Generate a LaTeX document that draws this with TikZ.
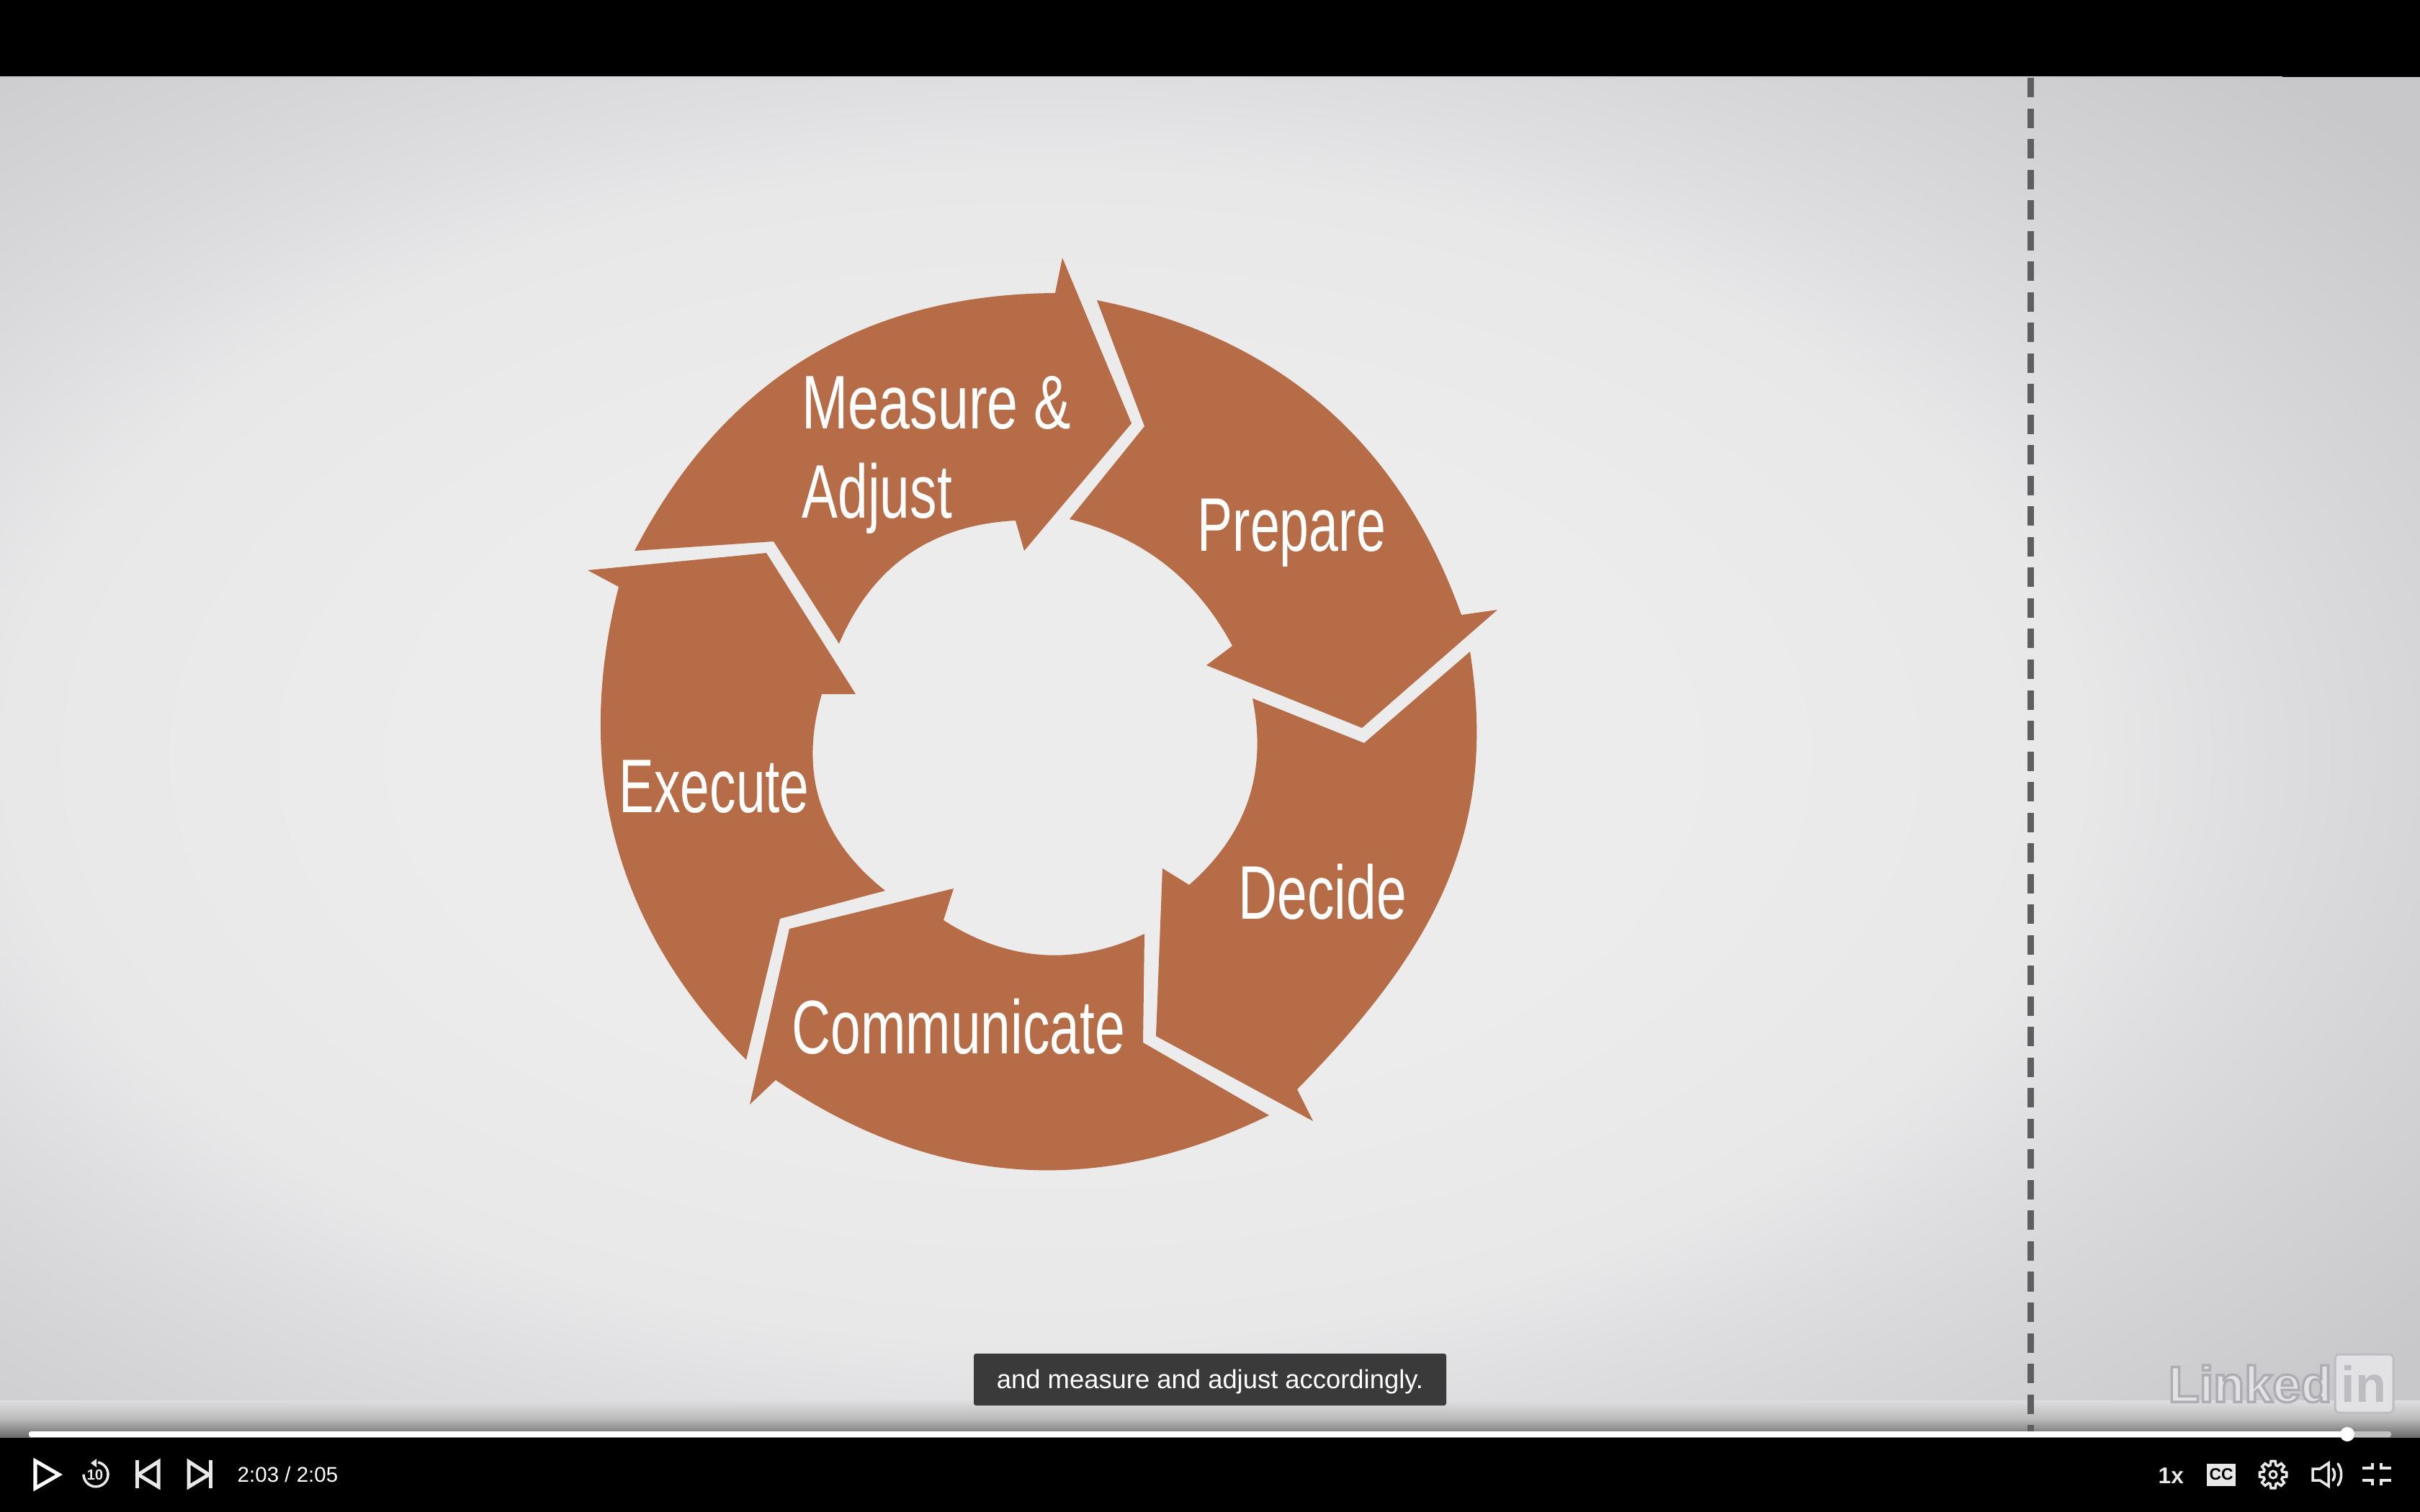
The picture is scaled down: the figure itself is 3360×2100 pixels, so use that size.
\documentclass[tikz,border=0pt]{standalone}
\usepackage{fontspec}
\setmainfont{Liberation Sans}
\newfontfamily\lblfont[FakeStretch=0.71]{Liberation Sans}
\newfontfamily\logofont[FakeBold=5]{Liberation Sans}
\definecolor{stagea}{HTML}{ECECEC}
\definecolor{stageb}{HTML}{E8E8E9}
\definecolor{stagec}{HTML}{DEDEE0}
\definecolor{staged}{HTML}{D6D6D9}
\definecolor{stagee}{HTML}{C8C8CB}
\definecolor{rust}{HTML}{B66C46}
\definecolor{dashgrey}{HTML}{5E5E5F}
\definecolor{capbox}{HTML}{3A3A3A}
\definecolor{iconw}{HTML}{E8E8E8}
\definecolor{logofill}{HTML}{E2E2E4}
\definecolor{logoedge}{HTML}{BDBDC1}
\pgfdeclareradialshading{stagebg}{\pgfpoint{0bp}{0bp}}{%
  color(0bp)=(stagea); color(35bp)=(stagea); color(60bp)=(stageb); color(70bp)=(stagec); color(80bp)=(staged); color(100bp)=(stagee)}
\tikzset{
  arrowshape/.style={fill=rust},
  lbl/.style={text=white,anchor=base west,inner sep=0pt,font=\lblfont\fontsize{30}{36}\selectfont},
  ctrltext/.style={text=white,inner sep=0pt,font=\fontsize{8.4}{10}\selectfont},
  logotext/.style={inner sep=0pt,text=logofill,font=\logofont\bfseries\fontsize{20}{24}\selectfont},
  iconline/.style={draw=iconw,line width=0.035cm},
}
\begin{document}
\begin{tikzpicture}[x=0.01cm,y=-0.01cm,line join=miter]
\useasboundingbox (0,0) rectangle (3360,2100);
\fill[black] (0,0) rectangle (3360,2100);
% stage
\fill[stagee] (0,107) rectangle (3360,1996);
\begin{scope}
\clip (0,107) rectangle (3360,1996);
\pgflowlevelobj{\pgftransformshift{\pgfpointxy{1450}{1050}}\pgftransformxscale{6.80}\pgftransformyscale{3.83}}{\pgfuseshading{stagebg}}
\end{scope}
% bottom gradient
\shade[top color=stagec,bottom color=black!58!white,middle color=black!27!white] (0,1945) rectangle (3360,1996);
% dashed divider
\draw[dashgrey,line width=0.09cm,dash pattern=on 0.27cm off 0.155cm] (2819,108) -- (2819,1990);
% arrows
\fill[arrowshape] (881,765) -- (1074,752) -- (1165,894)
  .. controls (1211,786) and (1293,729) .. (1410,723)
  -- (1422,765) -- (1571,588) -- (1475,358) -- (1465,407)
  .. controls (1198,409) and (1004,528) .. (881,765) -- cycle;
\fill[arrowshape] (1523,417) -- (1589,592) -- (1485,721)
  .. controls (1587,746) and (1662,805) .. (1711,897)
  -- (1675,924) -- (1891,1011) -- (2079,847) -- (2029,854)
  .. controls (1943,613) and (1774,467) .. (1523,417) -- cycle;
\fill[arrowshape] (2041,905) -- (1894,1032) -- (1739,970)
  .. controls (1760,1073) and (1731,1159) .. (1651,1229)
  -- (1614,1206) -- (1605,1439) -- (1823,1557) -- (1801,1513)
  .. controls (1991,1319) and (2081,1156) .. (2041,905) -- cycle;
\fill[arrowshape] (1762,1549) -- (1587,1448) -- (1589,1297)
  .. controls (1493,1342) and (1400,1336) .. (1310,1278)
  -- (1324,1234) -- (1096,1290) -- (1041,1534) -- (1077,1500)
  .. controls (1296,1649) and (1524,1665) .. (1762,1549) -- cycle;
\fill[arrowshape] (1036,1472) -- (1083,1276) -- (1229,1237)
  .. controls (1138,1165) and (1109,1074) .. (1141,964)
  -- (1188,964) -- (1064,768) -- (816,792) -- (859,815)
  .. controls (795,1067) and (853,1287) .. (1036,1472) -- cycle;
% labels
\node[lbl] (measure) at (1113,595) {\scalebox{1.03}[1]{Measure \&}};
\node[lbl] (adjust) at (1113,719) {Adjust};
\node[lbl] (prepare) at (1662,765) {\scalebox{0.98}[1]{Prepare}};
\node[lbl] (decide) at (1719,1276) {Decide};
\node[lbl] (communicate) at (1099,1463) {Communicate};
\node[lbl] (execute) at (859,1128) {\scalebox{0.975}[1]{Execute}};
% caption
\fill[capbox,rounded corners=0.03cm] (1352,1880) rectangle (2008,1952);
\node[text=white,anchor=base,inner sep=0pt,font=\fontsize{10.35}{12}\selectfont] (caption) at (1680,1928) {and measure and adjust accordingly.};
% logo
\node[logotext,anchor=base west] (linked) at (3010,1947) {\special{pdf:code 0.68 0.68 0.70 RG}Linked};
\fill[logofill,draw=logoedge,line width=0.03cm,rounded corners=0.06cm] (3242,1881) rectangle (3323,1962);
\node[inner sep=0pt,anchor=base,text=logoedge,font=\bfseries\fontsize{20}{24}\selectfont] (logoin) at (3282,1947) {in};
% scrubber
\fill[black!25,rounded corners=0.03cm] (3259,1988) rectangle (3320,1996);
\fill[white,rounded corners=0.03cm] (40,1988) rectangle (3259,1996);
\fill[white] (3259,1992) circle (10);
% left controls
\draw[white,line width=0.05cm] (49,2029) -- (49,2067) -- (82,2048) -- cycle;
\draw[iconline] (136,2031) arc[start angle=-80,end angle=180,radius=17];
\fill[iconw] (126,2032) -- (134,2026) -- (134,2038) -- cycle;
\node[inner sep=0pt,text=iconw,font=\bfseries\fontsize{5.8}{6}\selectfont] (replay) at (132,2048) {10};
\draw[iconw,line width=0.05cm] (190,2028) -- (190,2067);
\draw[iconw,line width=0.05cm] (220,2030) -- (220,2065) -- (192,2048) -- cycle;
\draw[iconw,line width=0.05cm] (292,2028) -- (292,2067);
\draw[iconw,line width=0.05cm] (262,2030) -- (262,2065) -- (290,2048) -- cycle;
\node[ctrltext,anchor=base west] (time) at (329,2058) {2:03 / 2:05};
% right controls
\node[ctrltext,anchor=base west,text=iconw,font=\bfseries\fontsize{9}{10}\selectfont] (speed) at (2996,2060) {1x};
\node[fill=iconw,minimum width=0.4cm,minimum height=0.31cm,inner sep=0pt,text=black,font=\bfseries\fontsize{6.5}{7}\selectfont] (cc) at (3084,2048) {CC};
\begin{scope}[shift={(3156,2048)}]
\draw[iconline] (-9:19) \foreach \a in {0,45,...,315}{ -- (\a-9:19) -- (\a+9:19) -- (\a+17:13.5) -- (\a+28:13.5)} -- cycle;
\draw[iconw,line width=0.03cm] (0,0) circle (5);
\end{scope}
\draw[iconline] (3211,2040) -- (3221,2040) -- (3233,2032) -- (3233,2064) -- (3221,2056) -- (3211,2056) -- cycle;
\draw[iconline,line cap=round] (3239,2040) arc[start angle=-35,end angle=35,radius=14];
\draw[iconline,line cap=round] (3246,2033) arc[start angle=-35,end angle=35,radius=26];
\draw[iconline] (3280,2039) -- (3294,2039) -- (3294,2032);
\draw[iconline] (3306,2032) -- (3306,2039) -- (3320,2039);
\draw[iconline] (3280,2056) -- (3294,2056) -- (3294,2063);
\draw[iconline] (3306,2063) -- (3306,2056) -- (3320,2056);
\end{tikzpicture}
\end{document}
